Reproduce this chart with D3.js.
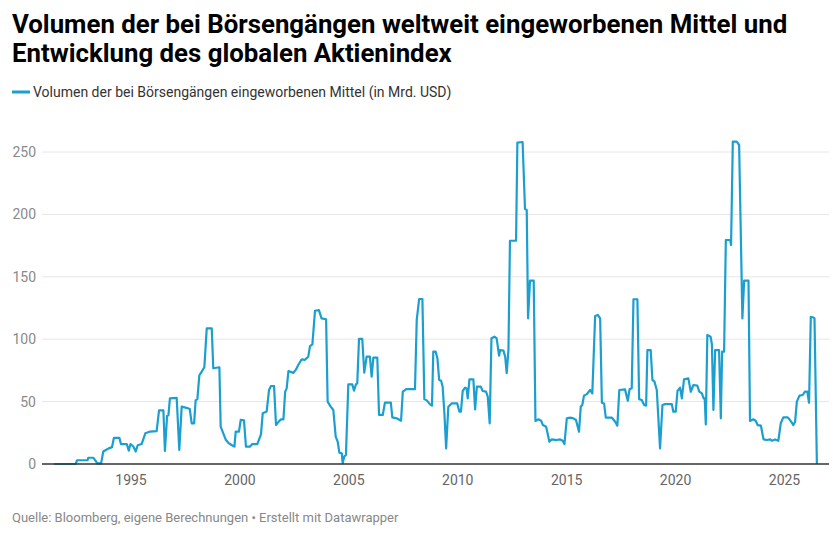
<!DOCTYPE html>
<html>
<head>
<meta charset="utf-8">
<script src="https://cdn.jsdelivr.net/npm/d3@7"></script>
<style>
  body { margin: 0; background: #fff; font-family: Roboto, sans-serif; }
  svg text { font-family: Roboto, sans-serif; }
</style>
</head>
<body>
<svg id="chart" width="840" height="538"></svg>
<script>
// Data (decimal year, volume in bn USD)
const years = [
  1991.49, 1992.48, 1992.55, 1993.03, 1993.06, 1993.30, 1993.48, 1993.65, 1993.75, 1993.85,
  1994.00, 1994.15, 1994.24, 1994.49, 1994.56, 1994.83, 1994.92, 1995.00, 1995.13, 1995.24,
  1995.33, 1995.51, 1995.68, 1995.90, 1996.20, 1996.31, 1996.51, 1996.58, 1996.68, 1996.74,
  1996.81, 1997.12, 1997.24, 1997.35, 1997.57, 1997.72, 1997.81, 1997.92, 1997.99, 1998.07,
  1998.16, 1998.27, 1998.39, 1998.50, 1998.73, 1998.80, 1999.08, 1999.14, 1999.26, 1999.38,
  1999.49, 1999.64, 1999.77, 1999.83, 1999.98, 2000.06, 2000.21, 2000.30, 2000.48, 2000.59,
  2000.82, 2000.99, 2001.07, 2001.25, 2001.36, 2001.45, 2001.59, 2001.68, 2001.79, 2001.91,
  2002.02, 2002.10, 2002.17, 2002.25, 2002.48, 2002.60, 2002.70, 2002.86, 2003.01, 2003.16,
  2003.24, 2003.35, 2003.47, 2003.65, 2003.77, 2003.98, 2004.05, 2004.19, 2004.31, 2004.42,
  2004.51, 2004.59, 2004.70, 2004.74, 2004.81, 2004.89, 2005.00, 2005.18, 2005.26, 2005.35,
  2005.41, 2005.49, 2005.64, 2005.73, 2005.84, 2005.99, 2006.07, 2006.15, 2006.33, 2006.41,
  2006.58, 2006.68, 2006.95, 2007.02, 2007.22, 2007.42, 2007.50, 2007.66, 2008.06, 2008.14,
  2008.25, 2008.40, 2008.49, 2008.60, 2008.75, 2008.84, 2008.90, 2009.01, 2009.09, 2009.17,
  2009.26, 2009.33, 2009.41, 2009.49, 2009.59, 2009.74, 2010.00, 2010.10, 2010.17, 2010.25,
  2010.36, 2010.43, 2010.48, 2010.56, 2010.74, 2010.82, 2010.90, 2011.08, 2011.17, 2011.32,
  2011.40, 2011.49, 2011.57, 2011.71, 2011.81, 2011.92, 2011.97, 2012.12, 2012.20, 2012.27,
  2012.35, 2012.42, 2012.70, 2012.76, 2013.00, 2013.11, 2013.19, 2013.25, 2013.34, 2013.51,
  2013.59, 2013.73, 2013.85, 2013.93, 2014.08, 2014.23, 2014.34, 2014.57, 2014.72, 2014.84,
  2014.92, 2015.03, 2015.18, 2015.33, 2015.45, 2015.59, 2015.67, 2015.74, 2015.82, 2015.95,
  2016.10, 2016.20, 2016.33, 2016.45, 2016.56, 2016.64, 2016.74, 2016.82, 2017.10, 2017.25,
  2017.35, 2017.44, 2017.70, 2017.83, 2017.91, 2018.01, 2018.09, 2018.27, 2018.35, 2018.47,
  2018.58, 2018.67, 2018.73, 2018.88, 2018.96, 2019.05, 2019.16, 2019.31, 2019.42, 2019.54,
  2019.85, 2019.92, 2020.03, 2020.11, 2020.23, 2020.31, 2020.41, 2020.61, 2020.72, 2020.84,
  2021.02, 2021.11, 2021.23, 2021.31, 2021.36, 2021.41, 2021.48, 2021.63, 2021.69, 2021.76,
  2021.84, 2022.02, 2022.10, 2022.16, 2022.25, 2022.33, 2022.53, 2022.57, 2022.65, 2022.83,
  2022.94, 2023.09, 2023.17, 2023.37, 2023.44, 2023.59, 2023.70, 2023.79, 2023.94, 2024.06,
  2024.21, 2024.37, 2024.44, 2024.59, 2024.74, 2024.85, 2024.97, 2025.16, 2025.25, 2025.36,
  2025.43, 2025.51, 2025.59, 2025.71, 2025.86, 2025.96, 2026.07, 2026.15, 2026.23, 2026.35,
  2026.40, 2026.51
];

const volumes = [
  0, 0, 3, 3, 5, 5, 0.5, 0.5, 10, 11,
  12.5, 13.5, 21, 21, 16, 16, 10.7, 16, 14, 10,
  15, 16, 24.6, 26, 26.4, 43, 43, 10.4, 38.5, 39,
  52.6, 53, 11.2, 46, 45, 44, 32.6, 32.6, 51, 52,
  71, 74, 77.5, 108.7, 108.7, 76.7, 77.5, 30, 24.6, 19.2,
  17, 15.2, 13.9, 25.9, 25.9, 35.3, 34.9, 13.9, 13.9, 16,
  16, 23.8, 40.6, 42, 59.3, 62.5, 62.5, 31.2, 33.6, 35.8,
  35.8, 57.9, 60.6, 74.5, 73, 75.8, 79.3, 83.9, 83.5, 86,
  94.5, 95.9, 122.8, 123.3, 116.7, 116, 50, 46, 43.3, 21.9,
  18, 9, 8.5, 0.5, 5.9, 7.2, 63.8, 63.8, 58.8, 63.8,
  64.6, 100.2, 100.2, 73.2, 86, 86, 70, 85.2, 85.2, 39.3,
  39.3, 49.1, 49.1, 37.4, 36.6, 34.7, 57.9, 60, 60, 115.4,
  132.2, 132.2, 52, 51, 47.8, 46.8, 90, 90, 84.7, 67.3,
  66.7, 61.9, 40.6, 12.5, 45.9, 48.5, 48.5, 41.9, 41.9, 58.5,
  61.2, 60.6, 52.6, 67.8, 67.8, 43.8, 62, 62, 58.5, 58,
  54, 32.6, 100.7, 102, 100.7, 86.8, 91.3, 90.8, 86, 72.7,
  91.3, 178.9, 178.9, 257.5, 258, 204.3, 203.5, 116.7, 146.9, 146.9,
  34.5, 35.8, 34.7, 31.2, 29.9, 17.9, 19.7, 19.2, 19.7, 18.6,
  16, 36.6, 37.1, 36.6, 35.3, 25.9, 46, 47.3, 54.8, 56,
  59.3, 56.6, 118.6, 119.4, 116.6, 49.1, 48.5, 37.1, 37.1, 33.9,
  30.7, 59.3, 59.8, 50.7, 59.8, 60.6, 132, 132, 52, 51.3,
  47.3, 46.7, 91.3, 91.3, 67.3, 66.2, 59.3, 12.5, 47.3, 48,
  48, 41.9, 41.9, 58.5, 61.2, 52.6, 67.8, 68.6, 57.9, 63.3,
  62.8, 58, 56.6, 52.6, 52.6, 31.7, 103.4, 102, 96, 43.3,
  91.3, 91.3, 36.6, 90, 90, 179.5, 179.5, 175.5, 258.3, 258.3,
  255.6, 116.7, 146.9, 146.9, 34.5, 35.8, 34.7, 31.2, 30.7, 19.7,
  19.2, 19.7, 18.6, 19.7, 18.6, 32.6, 37.4, 37.4, 35.8, 33.1,
  31.2, 33.9, 50, 54.8, 55.3, 58, 58, 49.1, 118, 117.4,
  116.7, 0
];

const xTickYears = [1995, 2000, 2005, 2010, 2015, 2020, 2025];
const yTicks = [0, 50, 100, 150, 200, 250];

const titleLines = [
  "Volumen der bei Börsengängen weltweit eingeworbenen Mittel und",
  "Entwicklung des globalen Aktienindex"
];
const legendLabel = "Volumen der bei Börsengängen eingeworbenen Mittel (in Mrd. USD)";
const sourceText = "Quelle: Bloomberg, eigene Berechnungen • Erstellt mit Datawrapper";

const data = years.map((yr, i) => ({ yr, v: volumes[i] }));

const svg = d3.select("#chart");
const lineColor = "#1a9fd0";

// Scales
const plotLeft = 42, plotRight = 829;
const x = d3.scaleLinear().domain([1995, 2025]).range([130.5, 784]);
const y = d3.scaleLinear().domain([0, 250]).range([464, 152]);

// Title
svg.append("g")
  .selectAll("text")
  .data(titleLines)
  .join("text")
  .attr("x", 12)
  .attr("y", (d, i) => 33 + i * 29)
  .attr("font-size", 25.8)
  .attr("font-weight", 700)
  .attr("fill", "#000")
  .text(d => d);

// Legend
const legend = svg.append("g").attr("transform", "translate(12,92)");
legend.append("line")
  .attr("x1", 0).attr("x2", 18)
  .attr("stroke", lineColor)
  .attr("stroke-width", 3);
legend.append("text")
  .attr("x", 21)
  .attr("y", 5)
  .attr("font-size", 14)
  .attr("fill", "#333")
  .text(legendLabel);

// Grid + y labels
const grid = svg.append("g");
grid.selectAll("line")
  .data(yTicks.filter(d => d > 0))
  .join("line")
  .attr("x1", plotLeft).attr("x2", plotRight)
  .attr("y1", d => y(d)).attr("y2", d => y(d))
  .attr("stroke", "#e6e6e6")
  .attr("stroke-width", 1);

grid.selectAll("text")
  .data(yTicks)
  .join("text")
  .attr("x", 36)
  .attr("y", d => y(d) + 5)
  .attr("text-anchor", "end")
  .attr("font-size", 14)
  .attr("fill", "#8a8a8a")
  .text(d => d);

// x axis labels
const xAxis = d3.axisBottom(x)
  .tickValues(xTickYears)
  .tickFormat(d => String(d))
  .tickSize(0)
  .tickPadding(11);

svg.append("g")
  .attr("transform", `translate(0,${y(0)})`)
  .call(xAxis)
  .call(g => g.select(".domain").remove())
  .call(g => g.selectAll("text")
    .attr("font-size", 14)
    .attr("font-family", "Roboto, sans-serif")
    .attr("fill", "#666"));

// Line
const line = d3.line()
  .x(d => x(d.yr))
  .y(d => y(d.v));

svg.append("path")
  .datum(data)
  .attr("fill", "none")
  .attr("stroke", lineColor)
  .attr("stroke-width", 2.2)
  .attr("stroke-linejoin", "round")
  .attr("d", line);

// Baseline
svg.append("line")
  .attr("x1", plotLeft).attr("x2", plotRight)
  .attr("y1", y(0)).attr("y2", y(0))
  .attr("stroke", "#333")
  .attr("stroke-width", 1.5);

// Footer
svg.append("text")
  .attr("x", 12)
  .attr("y", 522)
  .attr("font-size", 13)
  .attr("fill", "#888")
  .text(sourceText);
</script>
</body>
</html>
